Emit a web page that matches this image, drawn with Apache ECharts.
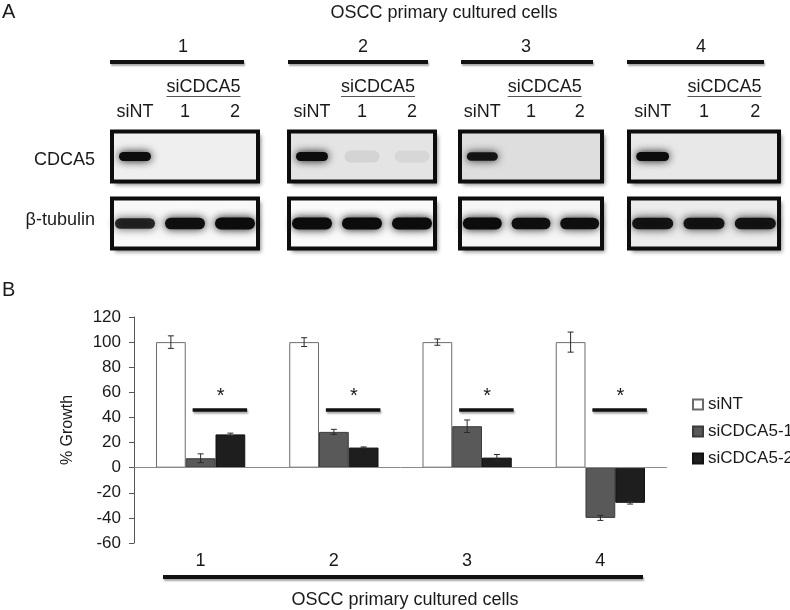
<!DOCTYPE html>
<html><head><meta charset="utf-8">
<script src="https://cdn.jsdelivr.net/npm/echarts@6/dist/echarts.min.js"></script>
<style>html,body{margin:0;padding:0;background:#fff}#c{width:790px;height:610px}</style>
</head><body><div id="c"></div>
<script>
// ---------------- data ----------------
const categories = ['1', '2', '3', '4'];
const seriesNames = ['siNT', 'siCDCA5-1', 'siCDCA5-2'];
const siNT = [100, 100, 100, 100];
const siNTErr = [5, 3.5, 2.5, 8];
const siCDCA5_1 = [7.5, 28.5, 33, -40];
const siCDCA5_1Err = [3.5, 2, 5, 2];
const siCDCA5_2 = [26.5, 16, 8, -28];
const siCDCA5_2Err = [1, 0.5, 2.5, 1];
const sigLevel = [46, 46, 46, 46];
const yMin = -60, yMax = 120, yStep = 20;

const cellLines = ['1', '2', '3', '4'];
const laneLabels = ['siNT', '1', '2'];
const blotRows = ['CDCA5', 'β-tubulin'];
// relative band intensity per cell line, lanes siNT / siCDCA5 1 / siCDCA5 2
const cdca5Band = [[1, 0, 0], [1, 0.07, 0.06], [0.9, 0.03, 0.03], [1, 0, 0]];
const tubulinBand = [[0.75, 0.95, 1], [1, 1, 1], [1, 0.95, 0.95], [0.9, 0.9, 0.9]];

// ---------------- layout / style ----------------
const FONT = '"Liberation Sans", Arial, sans-serif';
const TXT = '#1a1a1a';
const boxX = [[110, 150], [287, 150], [458, 146], [627, 154]];
const blotTop = 129.5, blotH = 121, boxH = 54;
const headNumX = [183, 363, 526, 701];
const headLine = [[110, 244], [288, 428], [461, 593], [627, 764]];
const siX = [203.5, 378, 544.7, 724.5];
const boxBg = [['#efefef', '#f8f8f8'], ['#e4e4e4', '#fafafa'], ['#dedede', '#f6f6f6'], ['#e8e8e8', '#ececec']];
const barColors = ['#ffffff', '#595959', '#1e1e1e'];
const barBorders = ['#6b6b6b', '#3a3a3a', '#111111'];
const catGap = 0.33;

const chart = echarts.init(document.getElementById('c'), null, {renderer: 'canvas'});

function blotRender(g) {
  return function (params, api) {
    const cs = params.coordSys;
    const row = api.value(1);
    const y0 = row === 0 ? cs.y : cs.y + cs.height - boxH;
    const rect = {x: cs.x + 2, y: y0 + 2, width: cs.width - 4, height: boxH - 4};
    const children = [{
      type: 'rect', shape: rect,
      style: {fill: boxBg[g][row], shadowBlur: 4, shadowOffsetX: 3, shadowOffsetY: 3, shadowColor: 'rgba(0,0,0,0.45)'}
    }];
    const laneW = api.size([1, 0])[0];
    for (let k = 0; k < 3; k++) {
      const it = api.value(2 + k);
      if (it <= 0.04) continue;
      const cx = api.coord([k, row])[0];
      const cy = y0 + boxH / 2;
      const faint = it < 0.3;
      const w = laneW * (row === 0 ? (faint ? 0.7 : 0.64) : 0.8);
      const h = faint ? 12 : (row === 0 ? 9 : 12) * (0.55 + 0.45 * it);
      const a = faint ? it : Math.min(1, 0.35 + 0.65 * it);
      children.push({
        type: 'rect', shape: {x: cx - w / 2, y: cy - h / 2, width: w, height: h, r: h / 2},
        style: {fill: 'rgba(12,12,12,' + a + ')', shadowBlur: faint ? 14 : 9, shadowColor: 'rgba(12,12,12,' + a + ')'}
      });
    }
    children.push({type: 'rect', shape: rect, style: {fill: 'none', stroke: '#0d0d0d', lineWidth: 4}});
    return {type: 'group', children: children};
  };
}

const grids = boxX.map(b => ({left: b[0], top: blotTop, width: b[1], height: blotH}));
grids.push({left: 134, right: 123, top: 317, bottom: 67});

const xAxes = boxX.map((b, g) => ({
  type: 'category', gridIndex: g, data: laneLabels, position: 'top',
  axisLine: {show: false}, axisTick: {show: false},
  axisLabel: {fontSize: 18, fontFamily: FONT, color: TXT, margin: 8, interval: 0}
}));
xAxes.push({
  type: 'category', gridIndex: 4, data: categories,
  axisLine: {show: false, onZero: false}, axisTick: {show: false},
  axisLabel: {fontSize: 18, fontFamily: FONT, color: TXT, margin: 9},
  name: 'OSCC primary cultured cells', nameLocation: 'middle', nameGap: 48,
  nameTextStyle: {fontSize: 18, fontFamily: FONT, color: TXT, padding: [0, 0, 0, 9]}
});

const yAxes = boxX.map((b, g) => ({
  type: 'category', gridIndex: g, data: blotRows, inverse: true,
  axisLine: {show: false}, axisTick: {show: false},
  axisLabel: {show: g === 0, fontSize: 18, fontFamily: FONT, color: TXT, margin: 15}
}));
yAxes.push({
  type: 'value', gridIndex: 4, min: yMin, max: yMax, interval: yStep,
  axisLine: {show: true, lineStyle: {color: '#555', width: 1}},
  axisTick: {show: true, length: 5, lineStyle: {color: '#555'}},
  splitLine: {show: false},
  axisLabel: {fontSize: 17, fontFamily: FONT, color: TXT, margin: 13},
  name: '% Growth', nameLocation: 'middle', nameRotate: 90, nameGap: 58,
  nameTextStyle: {fontSize: 16, fontFamily: FONT, color: TXT}
});

const series = [];
boxX.forEach((b, g) => {
  series.push({
    type: 'custom', xAxisIndex: g, yAxisIndex: g, silent: true, clip: false,
    encode: {x: 0, y: 1},
    data: blotRows.map((r, ri) => [1, ri].concat(ri === 0 ? cdca5Band[g] : tubulinBand[g])),
    renderItem: blotRender(g)
  });
});

const barVals = [siNT, siCDCA5_1, siCDCA5_2];
const barErrs = [siNTErr, siCDCA5_1Err, siCDCA5_2Err];
seriesNames.forEach((n, s) => {
  const o = {
    name: n, type: 'bar', xAxisIndex: 4, yAxisIndex: 4, data: barVals[s],
    barGap: '0%', barCategoryGap: (catGap * 100) + '%',
    itemStyle: {color: barColors[s], borderColor: barBorders[s], borderWidth: 1},
    silent: true
  };
  if (s === 0) {
    o.markLine = {silent: true, symbol: ['none', 'none'], label: {show: false},
      lineStyle: {color: '#8a8a8a', width: 1, type: 'solid'}, data: [{yAxis: 0}]};
  }
  series.push(o);
});

const errData = [];
barVals.forEach((arr, s) => arr.forEach((v, c) => errData.push([c, v, barErrs[s][c], s])));
series.push({
  type: 'custom', xAxisIndex: 4, yAxisIndex: 4, silent: true, z: 5,
  encode: {x: 0, y: 1}, data: errData,
  renderItem: function (params, api) {
    const c = api.value(0), v = api.value(1), e = api.value(2), s = api.value(3);
    const band = api.size([1, 0])[0];
    const bw = band * (1 - catGap) / 3;
    const cx = api.coord([c, 0])[0] + (s - 1) * bw;
    const yT = api.coord([c, v + e])[1], yB = api.coord([c, v - e])[1];
    const st = {stroke: '#2a2a2a', lineWidth: 1};
    return {type: 'group', children: [
      {type: 'line', shape: {x1: cx, y1: yT, x2: cx, y2: yB}, style: st},
      {type: 'line', shape: {x1: cx - 3, y1: yT, x2: cx + 3, y2: yT}, style: st},
      {type: 'line', shape: {x1: cx - 3, y1: yB, x2: cx + 3, y2: yB}, style: st}
    ]};
  }
});

series.push({
  type: 'custom', xAxisIndex: 4, yAxisIndex: 4, silent: true, z: 6,
  encode: {x: 0, y: 1}, data: sigLevel.map((v, c) => [c, v]),
  renderItem: function (params, api) {
    const p = api.coord([api.value(0), api.value(1)]);
    return {type: 'group', children: [
      {type: 'line', shape: {x1: p[0] - 8, y1: p[1], x2: p[0] + 46.5, y2: p[1]},
        style: {stroke: '#111', lineWidth: 3.5, shadowBlur: 2, shadowOffsetX: 1, shadowOffsetY: 2, shadowColor: 'rgba(0,0,0,0.35)'}},
      {type: 'text', x: p[0] + 20, y: p[1] - 13,
        style: {text: '*', fontSize: 20, fontFamily: FONT, fill: TXT, align: 'center', verticalAlign: 'middle'}}
    ]};
  }
});

// panel annotations
const graphics = [
  {type: 'text', x: 2, y: 12, style: {text: 'A', fontSize: 20, fontFamily: FONT, fill: TXT, align: 'left', verticalAlign: 'middle'}},
  {type: 'text', x: 2, y: 290, style: {text: 'B', fontSize: 20, fontFamily: FONT, fill: TXT, align: 'left', verticalAlign: 'middle'}},
  {type: 'text', x: 444, y: 13, style: {text: 'OSCC primary cultured cells', fontSize: 18, fontFamily: FONT, fill: TXT, align: 'center', verticalAlign: 'middle'}},
  {type: 'line', shape: {x1: 163, y1: 577, x2: 643, y2: 577},
    style: {stroke: '#111', lineWidth: 4, shadowBlur: 2, shadowOffsetX: 1, shadowOffsetY: 2, shadowColor: 'rgba(0,0,0,0.35)'}}
];
cellLines.forEach((t, g) => {
  graphics.push({type: 'text', x: headNumX[g], y: 47, style: {text: t, fontSize: 18, fontFamily: FONT, fill: TXT, align: 'center', verticalAlign: 'middle'}});
  graphics.push({type: 'line', shape: {x1: headLine[g][0], y1: 62, x2: headLine[g][1], y2: 62},
    style: {stroke: '#111', lineWidth: 4, shadowBlur: 2, shadowOffsetX: 1, shadowOffsetY: 2, shadowColor: 'rgba(0,0,0,0.35)'}});
  graphics.push({type: 'text', x: siX[g], y: 87, style: {text: 'siCDCA5', fontSize: 18, fontFamily: FONT, fill: TXT, align: 'center', verticalAlign: 'middle'}});
  graphics.push({type: 'line', shape: {x1: siX[g] - 37, y1: 96.5, x2: siX[g] + 37, y2: 96.5}, style: {stroke: '#555', lineWidth: 1}});
});

chart.setOption({
  animation: false,
  backgroundColor: '#ffffff',
  textStyle: {fontFamily: FONT},
  grid: grids,
  xAxis: xAxes,
  yAxis: yAxes,
  legend: {
    data: seriesNames, orient: 'vertical', left: 687, top: 391,
    itemWidth: 10, itemHeight: 10, itemGap: 10, icon: 'rect',
    textStyle: {fontSize: 17, fontFamily: FONT, color: TXT}
  },
  graphic: graphics,
  series: series
});
</script>
</body></html>
